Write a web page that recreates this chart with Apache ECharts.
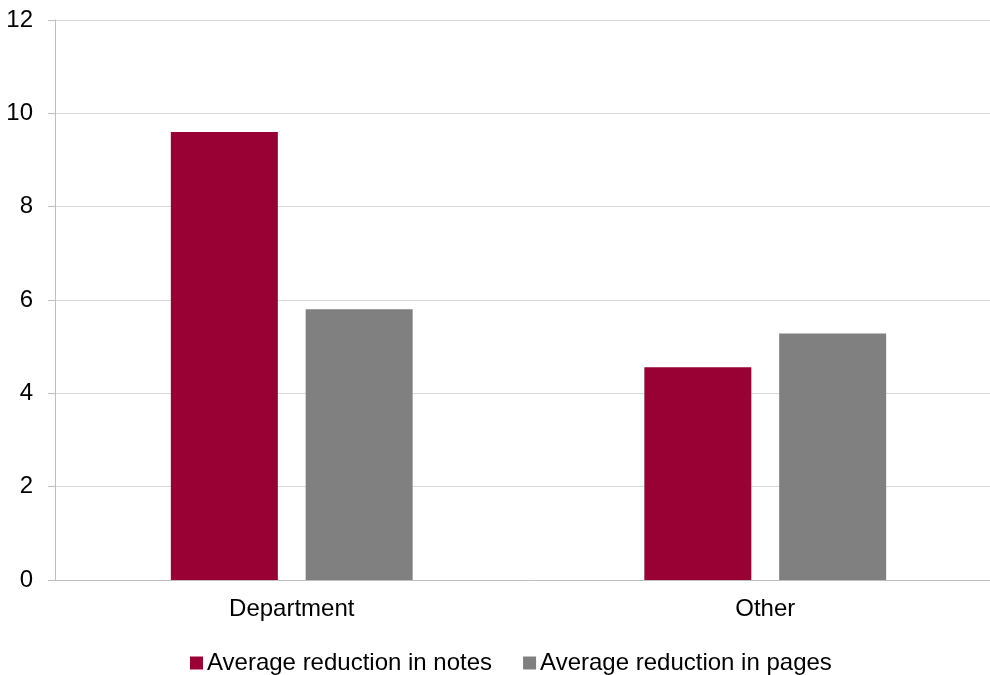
<!DOCTYPE html>
<html>
<head>
<meta charset="utf-8">
<script src="https://cdn.jsdelivr.net/npm/echarts@6/dist/echarts.min.js"></script>
<style>
  html, body { margin: 0; padding: 0; background: #fff; overflow: hidden; width: 990px; height: 675px; }
  #chart { width: 1002px; height: 675px; }
</style>
</head>
<body>
<div id="chart"></div>
<script>
// Grouped bar chart: average reductions by category
const categories = ['Department', 'Other'];
const seriesNames = ['Average reduction in notes', 'Average reduction in pages'];
const notesValues = [9.6, 4.56];
const pagesValues = [5.8, 5.28];
const yTicks = { min: 0, max: 12, interval: 2 };

const FONT = 'Liberation Sans, Arial, sans-serif';
const chart = echarts.init(document.getElementById('chart'));

chart.setOption({
  animation: false,
  textStyle: { fontFamily: FONT },
  grid: { left: 55, top: 20, right: 0, height: 560, containLabel: false },
  legend: {
    top: 646,
    left: 185,
    padding: 5,
    itemWidth: 13,
    itemHeight: 13,
    itemGap: 31,
    icon: 'rect',
    textStyle: { fontSize: 24, color: '#000', fontFamily: FONT, padding: [0, 0, 0, -1] },
    data: seriesNames
  },
  xAxis: {
    type: 'category',
    data: categories,
    axisLine: { lineStyle: { color: '#bfbfbf', width: 1 } },
    axisTick: { show: false },
    axisLabel: { fontSize: 24, color: '#000', margin: 17, fontFamily: FONT }
  },
  yAxis: {
    type: 'value',
    min: yTicks.min,
    max: yTicks.max,
    interval: yTicks.interval,
    axisLine: { show: true, lineStyle: { color: '#bfbfbf', width: 1 } },
    axisTick: { show: true, length: 7, lineStyle: { color: '#bfbfbf' } },
    splitLine: { lineStyle: { color: '#d9d9d9', width: 1 } },
    axisLabel: { fontSize: 24, color: '#000', margin: 22, fontFamily: FONT }
  },
  series: [
    {
      name: seriesNames[0],
      type: 'bar',
      data: notesValues,
      barWidth: 107,
      barGap: '26%',
      itemStyle: { color: '#990033' }
    },
    {
      name: seriesNames[1],
      type: 'bar',
      data: pagesValues,
      barWidth: 107,
      barGap: '26%',
      itemStyle: { color: '#808080' }
    }
  ]
});
</script>
</body>
</html>
